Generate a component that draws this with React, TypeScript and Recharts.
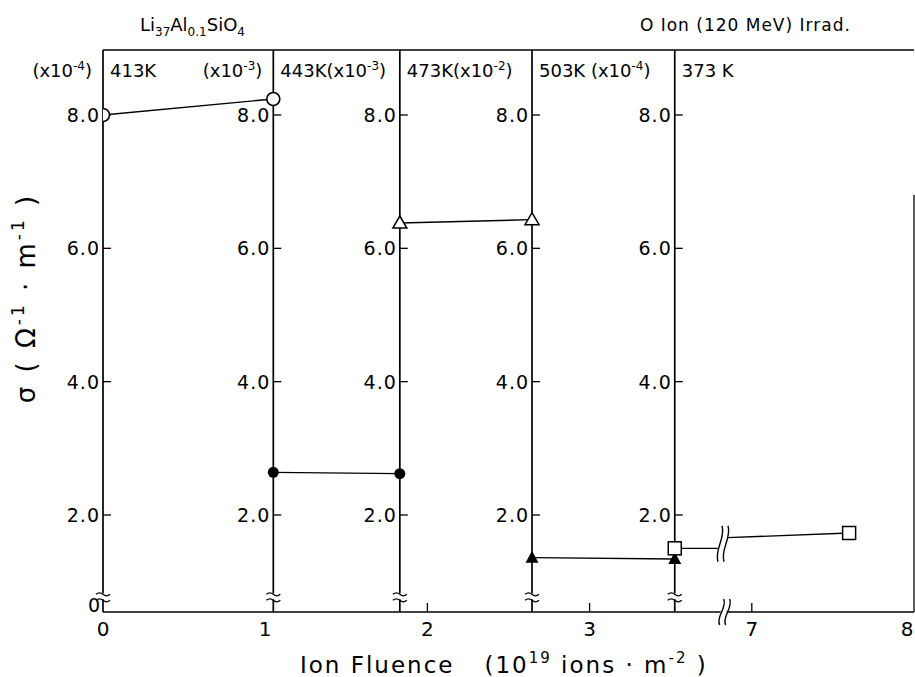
import React from "react";
import { ComposedChart, Scatter, XAxis, YAxis, ReferenceLine, ReferenceDot } from "recharts";

const FONT = "'DejaVu Sans', 'Liberation Sans', sans-serif";

// fluence in 10^19 ions/m^2, sigma in the scaled units of each temperature panel
const openCircleFluence = [0, 1.05];
const openCircleSigma = [8.0, 8.24];
const filledCircleFluence = [1.05, 1.83];
const filledCircleSigma = [2.64, 2.62];
const openTriangleFluence = [1.83, 2.645];
const openTriangleSigma = [6.38, 6.43];
const filledTriangleFluence = [2.645, 3.525];
const filledTriangleSigma = [1.36, 1.34];
const squareFluence = [3.525, 7.6];
const squareSigma = [1.5, 1.73];
// the square line is drawn in two pieces around the axis break
const squareLinePreFluence = [3.525, 3.79];
const squareLinePreSigma = [1.5, 1.5];
const squareLinePostFluence = [6.85, 7.6];
const squareLinePostSigma = [1.66, 1.73];

// one vertical sigma axis per temperature
const panelAxisFluence = [0, 1.05, 1.83, 2.645, 3.525];
const panelTicks = [2, 4, 6, 8];
const xTickFluence = [0, 1, 2, 3, 7, 8];
const xInnerTicks = [2, 3, 7];

const headerLabels = [
  { axis: 0, text: "(x10", sup: "-4", tail: ")", side: "left" },
  { axis: 0, text: "413K", sup: "", tail: "", side: "right" },
  { axis: 1, text: "(x10", sup: "-3", tail: ")", side: "left" },
  { axis: 1, text: "443K(x10", sup: "-3", tail: ")", side: "right" },
  { axis: 2, text: "473K(x10", sup: "-2", tail: ")", side: "right" },
  { axis: 3, text: "503K (x10", sup: "-4", tail: ")", side: "right" },
  { axis: 4, text: "373 K", sup: "", tail: "", side: "right" },
];

// axis break: fluences above BREAK are shifted left by GAP
const BREAK = 3.82;
const GAP = 3;
const toX = (f: number) => (f <= BREAK ? f : f - GAP);
const pts = (fs: number[], ss: number[]) => fs.map((f, i) => ({ x: toX(f), y: ss[i] }));

const Y_MIN = 0.545;
const Y_MAX = 8.975;

const OpenCircle = (p: any) => (
  <circle cx={p.cx} cy={p.cy} r={6.5} fill="#fff" stroke="#000" strokeWidth={1.6} />
);
const FilledCircle = (p: any) => <circle cx={p.cx} cy={p.cy} r={5.5} fill="#000" />;
const OpenTriangle = (p: any) => (
  <path
    d={`M${p.cx},${p.cy - 7} L${p.cx + 7},${p.cy + 5} L${p.cx - 7},${p.cy + 5} Z`}
    fill="#fff"
    stroke="#000"
    strokeWidth={1.5}
  />
);
const FilledTriangle = (p: any) => (
  <path d={`M${p.cx},${p.cy - 7} L${p.cx + 6.5},${p.cy + 5} L${p.cx - 6.5},${p.cy + 5} Z`} fill="#000" />
);
const OpenSquare = (p: any) => (
  <rect x={p.cx - 6.5} y={p.cy - 6.5} width={13} height={13} fill="#fff" stroke="#000" strokeWidth={1.5} />
);
const NoMark = () => <g />;

const AxisBreak = (p: any) => (
  <g fill="none" stroke="#000" strokeWidth={1.3}>
    <rect x={p.cx - 2} y={p.cy - 3} width={4} height={6} fill="#fff" stroke="none" />
    <path d={`M${p.cx - 7},${p.cy - 2} q3.5,-3 7,0 t7,0`} />
    <path d={`M${p.cx - 7},${p.cy + 4} q3.5,-3 7,0 t7,0`} />
  </g>
);

const SlashBreak = (h: number) => (p: any) => (
  <g fill="none" stroke="#000" strokeWidth={1.4}>
    <rect x={p.cx - 2} y={p.cy - 3} width={6} height={6} fill="#fff" stroke="none" />
    <path d={`M${p.cx + 1},${p.cy - h} C${p.cx + 5},${p.cy - h / 3} ${p.cx - 7},${p.cy + h / 3} ${p.cx - 3},${p.cy + h}`} />
    <path d={`M${p.cx + 7},${p.cy - h} C${p.cx + 11},${p.cy - h / 3} ${p.cx - 1},${p.cy + h / 3} ${p.cx + 3},${p.cy + h}`} />
  </g>
);

const XTick = (p: any) => {
  const v = p.payload.value;
  const label = String(Math.round(v <= BREAK ? v : v + GAP));
  // keep the last label inside the picture edge
  const x = Math.min(p.x, 907);
  return (
    <text x={x} y={p.y} dy="0.71em" textAnchor="middle" fontSize={20} fontFamily={FONT} fill="#000">
      {label}
    </text>
  );
};

const renderYLabel = (props: any) => {
  const vb = props.viewBox || { x: 0, y: 50, width: 103, height: 562 };
  const cx = vb.x + 35;
  const cy = vb.y + vb.height / 2 - 33;
  return (
    <text
      x={cx}
      y={cy}
      transform={`rotate(-90 ${cx} ${cy})`}
      textAnchor="middle"
      fontSize={26}
      fontFamily={FONT}
      letterSpacing={3}
      fill="#000"
    >
      <tspan>σ   (  Ω</tspan>
      <tspan fontSize={17} dy={-11}>-1</tspan>
      <tspan dy={11}>  ·  m</tspan>
      <tspan fontSize={17} dy={-11}>-1</tspan>
      <tspan dy={11}>   )</tspan>
    </text>
  );
};

const renderXLabel = (props: any) => {
  const vb = props.viewBox || { x: 103, y: 612, width: 811, height: 30 };
  const x = vb.x + 197;
  const y = vb.y + 61;
  return (
    <text x={x} y={y} fontSize={23} fontFamily={FONT} letterSpacing={2} fill="#000">
      <tspan>Ion Fluence</tspan>
      <tspan dx={30}>(10</tspan>
      <tspan fontSize={15} dy={-10}>19</tspan>
      <tspan dy={10}>  ions · m</tspan>
      <tspan fontSize={15} dy={-10}>-2</tspan>
      <tspan dy={10}> )</tspan>
    </text>
  );
};

export default function App() {
  return (
    <div style={{ position: "absolute", left: 0, top: 0, background: "#fff" }}>
      <ComposedChart width={915} height={677} margin={{ top: 50, right: 1, bottom: 35, left: 0 }}>
        <XAxis
          type="number"
          dataKey="x"
          domain={[0, 5]}
          ticks={xTickFluence.map(toX)}
          interval={0}
          allowDataOverflow
          tickLine={false}
          tickMargin={4}
          axisLine={{ stroke: "#000", strokeWidth: 1.6 }}
          tick={XTick}
          height={30}
          label={renderXLabel}
        />
        <YAxis
          type="number"
          dataKey="y"
          domain={[Y_MIN, Y_MAX]}
          allowDataOverflow
          width={103}
          tick={false}
          tickLine={false}
          axisLine={false}
          label={renderYLabel}
        />

        <ReferenceLine y={Y_MAX} stroke="#000" strokeWidth={1.5} />
        {panelAxisFluence.map((f) => (
          <ReferenceLine key={`ax-${f}`} x={toX(f)} stroke="#000" strokeWidth={1.7} />
        ))}
        <ReferenceLine
          segment={[
            { x: 5, y: Y_MIN },
            { x: 5, y: 6.8 },
          ]}
          stroke="#000"
          strokeWidth={1.3}
          ifOverflow="visible"
        />

        {panelAxisFluence.map((f) =>
          panelTicks.map((t) => (
            <ReferenceDot
              key={`t-${f}-${t}`}
              x={toX(f)}
              y={t}
              r={0}
              ifOverflow="visible"
              shape={(p: any) => (
                <g>
                  <line x1={p.cx} y1={p.cy} x2={p.cx + 8} y2={p.cy} stroke="#000" strokeWidth={1.3} />
                  <text
                    x={p.cx - 3}
                    y={p.cy}
                    dy="0.36em"
                    textAnchor="end"
                    fontSize={19}
                    letterSpacing={1}
                    fontFamily={FONT}
                    fill="#000"
                  >
                    {t.toFixed(1)}
                  </text>
                </g>
              )}
            />
          ))
        )}
        {panelAxisFluence.map((f) => (
          <ReferenceDot key={`b-${f}`} x={toX(f)} y={0.78} r={0} ifOverflow="visible" shape={AxisBreak} />
        ))}
        <ReferenceDot
          x={0}
          y={Y_MIN}
          r={0}
          ifOverflow="visible"
          shape={(p: any) => (
            <text x={p.cx - 9} y={p.cy - 7} dy="0.36em" textAnchor="middle" fontSize={19} fontFamily={FONT} fill="#000">
              0
            </text>
          )}
        />
        {xInnerTicks.map((t) => (
          <ReferenceDot
            key={`xt-${t}`}
            x={toX(t)}
            y={Y_MIN}
            r={0}
            ifOverflow="visible"
            shape={(p: any) => <line x1={p.cx} y1={p.cy} x2={p.cx} y2={p.cy - 9} stroke="#000" strokeWidth={1.3} />}
          />
        ))}
        <ReferenceDot x={BREAK} y={Y_MIN} r={0} ifOverflow="visible" shape={SlashBreak(13)} />

        {headerLabels.map((h, i) => (
          <ReferenceDot
            key={`h-${i}`}
            x={toX(panelAxisFluence[h.axis])}
            y={8.67}
            r={0}
            ifOverflow="visible"
            shape={(p: any) => (
              <text
                x={h.side === "left" ? p.cx - 11 : p.cx + 7}
                y={p.cy}
                dy="0.36em"
                textAnchor={h.side === "left" ? "end" : "start"}
                fontSize={18}
                fontFamily={FONT}
                fill="#000"
              >
                <tspan>{h.text}</tspan>
                {h.sup && (
                  <tspan fontSize={12} dy={-7}>
                    {h.sup}
                  </tspan>
                )}
                {h.tail && <tspan dy={h.sup ? 7 : 0}>{h.tail}</tspan>}
              </text>
            )}
          />
        ))}

        <ReferenceDot
          x={0.228}
          y={9.35}
          r={0}
          ifOverflow="visible"
          shape={(p: any) => (
            <text x={p.cx} y={p.cy} dy="0.36em" fontSize={18} fontFamily={FONT} fill="#000">
              <tspan>Li</tspan>
              <tspan fontSize={12} dy={5}>37</tspan>
              <tspan dy={-5}>Al</tspan>
              <tspan fontSize={12} dy={5}>0.1</tspan>
              <tspan dy={-5}>SiO</tspan>
              <tspan fontSize={12} dy={5}>4</tspan>
            </text>
          )}
        />
        <ReferenceDot
          x={3.31}
          y={9.35}
          r={0}
          ifOverflow="visible"
          shape={(p: any) => (
            <text x={p.cx} y={p.cy} dy="0.36em" fontSize={17} letterSpacing={1} fontFamily={FONT} fill="#000">
              O Ion (120 MeV) Irrad.
            </text>
          )}
        />

        <Scatter
          data={pts(squareLinePreFluence, squareLinePreSigma)}
          line={{ stroke: "#000", strokeWidth: 1.4 }}
          shape={NoMark}
          isAnimationActive={false}
        />
        <Scatter
          data={pts(squareLinePostFluence, squareLinePostSigma)}
          line={{ stroke: "#000", strokeWidth: 1.4 }}
          shape={NoMark}
          isAnimationActive={false}
        />
        <ReferenceDot x={3.81} y={1.57} r={0} ifOverflow="visible" shape={SlashBreak(18)} />

        <Scatter
          data={pts(openCircleFluence, openCircleSigma)}
          line={{ stroke: "#000", strokeWidth: 1.4 }}
          shape={OpenCircle}
          isAnimationActive={false}
        />
        <Scatter
          data={pts(filledCircleFluence, filledCircleSigma)}
          line={{ stroke: "#000", strokeWidth: 1.4 }}
          shape={FilledCircle}
          isAnimationActive={false}
        />
        <Scatter
          data={pts(openTriangleFluence, openTriangleSigma)}
          line={{ stroke: "#000", strokeWidth: 1.4 }}
          shape={OpenTriangle}
          isAnimationActive={false}
        />
        <Scatter
          data={pts(filledTriangleFluence, filledTriangleSigma)}
          line={{ stroke: "#000", strokeWidth: 1.4 }}
          shape={FilledTriangle}
          isAnimationActive={false}
        />
        <Scatter data={pts(squareFluence, squareSigma)} shape={OpenSquare} isAnimationActive={false} />
      </ComposedChart>
    </div>
  );
}
